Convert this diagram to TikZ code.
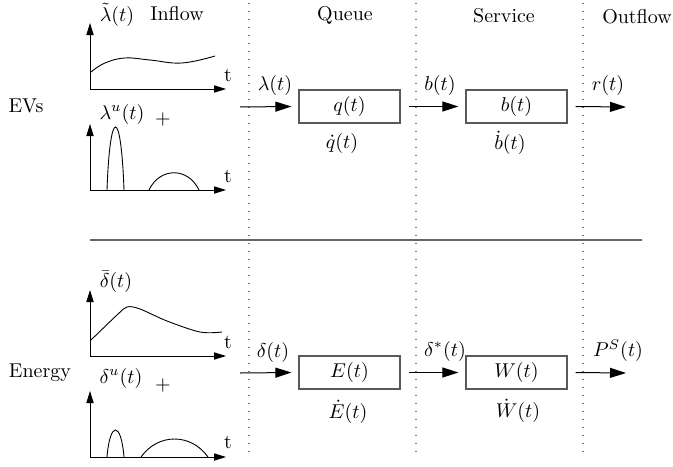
\documentclass[tikz,border=0pt]{standalone}
\usetikzlibrary{arrows.meta}
\begin{document}
\begin{tikzpicture}[x=0.5pt,y=-0.5pt,
  axis/.style={-{Triangle[length=6pt,width=3.6pt]},line width=0.5pt},
  flow/.style={-{Triangle[length=8pt,width=5pt]},line width=0.5pt},
  stage/.style={draw=black!65,line width=0.6pt,minimum width=50.5pt,minimum height=16.5pt,inner sep=0pt},
  lbl/.style={inner sep=1pt},
  sep/.style={black!55,line width=0.6pt,dash pattern=on 0.6pt off 3.4pt},
  curve/.style={line width=0.45pt}]
\useasboundingbox (0,0) rectangle (673,466);
% headings
\node[lbl] (inflow) at (177,14) {Inflow};
\node[lbl] (queue) at (345,15) {Queue};
\node[lbl] (service) at (504,16) {Service};
\node[lbl] (outflow) at (637,17) {Outflow};
\node[lbl] (evs) at (26,106) {EVs};
\node[lbl] (energy) at (40,373) {Energy};
% separators
\foreach \xx in {249,416,583} \draw[sep] (\xx,3) -- (\xx,452);
\draw[black!60,line width=0.6pt] (90,240) -- (642,240);
% plot 1
\coordinate (o1) at (90,89);
\draw[axis] (o1) -- (90,23);
\draw[axis] (o1) -- (226,89);
\draw[curve] plot[smooth,tension=0.7] coordinates {(91,72) (105,63) (125,58) (150,60) (182,63) (215,56)};
\node[lbl] (l1) at (117,15) {$\tilde\lambda(t)$};
\node[lbl] (t1) at (228,75) {t};
% plot 2
\coordinate (o2) at (90,190);
\draw[axis] (o2) -- (90,124);
\draw[axis] (o2) -- (226,190);
\draw[curve] (107,190) .. controls (110,106) and (121,106) .. (124,190);
\draw[curve] (149,190) .. controls (160,167) and (188,167) .. (199,190);
\node[lbl] (l2) at (122,114) {$\lambda^u(t)$};
\node[lbl] (p2) at (163,119) {$+$};
\node[lbl] (t2) at (228,176) {t};
% plot 3
\coordinate (o3) at (90,356);
\draw[axis] (o3) -- (90,290);
\draw[axis] (o3) -- (226,356);
\draw[curve] plot[smooth,tension=0.55] coordinates {(91,340) (117,315) (127,307) (140,309) (167,321) (200,332) (222,332)};
\node[lbl] (l3) at (116,282) {$\bar\delta(t)$};
\node[lbl] (t3) at (228,342) {t};
% plot 4
\coordinate (o4) at (90,457);
\draw[axis] (o4) -- (90,391);
\draw[axis] (o4) -- (226,457);
\draw[curve] (107,457) .. controls (110,421) and (121,421) .. (124,457);
\draw[curve] (141,457) .. controls (158,433) and (191,433) .. (208,457);
\node[lbl] (l4) at (121,378) {$\delta^u(t)$};
\node[lbl] (p4) at (163,385) {$+$};
\node[lbl] (t4) at (228,442) {t};
% top row
\node[stage] (q) at (349.5,106.5) {$q(t)$};
\node[stage] (b) at (516.5,106.5) {$b(t)$};
\coordinate (in1) at (240,107);
\coordinate (out1) at (626,107);
\draw[flow] (in1) -- ([xshift=-3.5pt]q.west);
\draw[flow] (q.east) ++(4pt,0) coordinate (qe) -- ([xshift=-3.5pt]b.west);
\draw[flow] (b.east) ++(4pt,0) coordinate (be) -- (out1);
\node[lbl] (lam) at (275,85) {$\lambda(t)$};
\node[lbl] (bt) at (440,85) {$b(t)$};
\node[lbl] (rt) at (608,85) {$r(t)$};
\node[lbl] (qd) at (342,143) {$\dot q(t)$};
\node[lbl] (bd) at (510,143) {$\dot b(t)$};
% bottom row
\node[stage] (E) at (349.5,372.5) {$E(t)$};
\node[stage] (W) at (516.5,372.5) {$W(t)$};
\coordinate (in2) at (240,373);
\coordinate (out2) at (626,373);
\draw[flow] (in2) -- ([xshift=-3.5pt]E.west);
\draw[flow] (E.east) ++(4pt,0) coordinate (Ee) -- ([xshift=-3.5pt]W.west);
\draw[flow] (W.east) ++(4pt,0) coordinate (We) -- (out2);
\node[lbl] (del) at (273,352) {$\delta(t)$};
\node[lbl] (dels) at (445,351) {$\delta^*(t)$};
\node[lbl] (ps) at (618,351) {$P^S(t)$};
\node[lbl] (Ed) at (348,412) {$\dot E(t)$};
\node[lbl] (Wd) at (518,411) {$\dot W(t)$};
\end{tikzpicture}
\end{document}
